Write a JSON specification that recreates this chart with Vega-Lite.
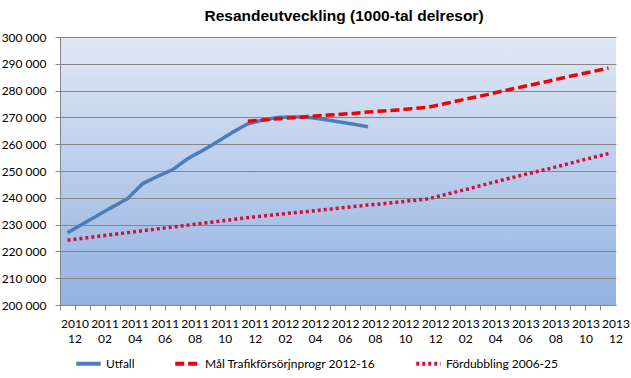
{
  "$schema": "https://vega.github.io/schema/vega-lite/v6.json",
  "width": 556,
  "height": 268,
  "autosize": "none",
  "padding": {"left": 60, "top": 37, "right": 15, "bottom": 73},
  "background": "white",
  "title": {
    "text": "Resandeutveckling (1000-tal delresor)",
    "font": "Liberation Sans",
    "fontSize": 15.5,
    "fontWeight": "bold",
    "color": "#000000",
    "anchor": "middle",
    "offset": 7,
    "dx": 6
  },
  "config": {
    "font": "Lato",
    "view": {
      "stroke": null,
      "fill": {
        "gradient": "linear",
        "x1": 0, "y1": 0, "x2": 0, "y2": 1,
        "stops": [
          {"offset": 0, "color": "#E0E8F5"},
          {"offset": 1, "color": "#93B2E1"}
        ]
      }
    }
  },
  "data": {
    "values": [
      {"m": "2010-12", "s": "Utfall", "v": 227000},
      {"m": "2011-01", "s": "Utfall", "v": 230200},
      {"m": "2011-02", "s": "Utfall", "v": 233400},
      {"m": "2011-03", "s": "Utfall", "v": 236600},
      {"m": "2011-04", "s": "Utfall", "v": 239700},
      {"m": "2011-05", "s": "Utfall", "v": 245300},
      {"m": "2011-06", "s": "Utfall", "v": 248000},
      {"m": "2011-07", "s": "Utfall", "v": 250500},
      {"m": "2011-08", "s": "Utfall", "v": 254600},
      {"m": "2011-09", "s": "Utfall", "v": 257700},
      {"m": "2011-10", "s": "Utfall", "v": 261000},
      {"m": "2011-11", "s": "Utfall", "v": 264500},
      {"m": "2011-12", "s": "Utfall", "v": 267600},
      {"m": "2012-01", "s": "Utfall", "v": 269000},
      {"m": "2012-02", "s": "Utfall", "v": 270000},
      {"m": "2012-03", "s": "Utfall", "v": 270200},
      {"m": "2012-04", "s": "Utfall", "v": 270000},
      {"m": "2012-05", "s": "Utfall", "v": 269300},
      {"m": "2012-06", "s": "Utfall", "v": 268400},
      {"m": "2012-07", "s": "Utfall", "v": 267500},
      {"m": "2012-08", "s": "Utfall", "v": 266500},
      {"m": "2011-12", "s": "Mål Trafikförsörjnprogr 2012-16", "v": 268600},
      {"m": "2012-01", "s": "Mål Trafikförsörjnprogr 2012-16", "v": 269000},
      {"m": "2012-02", "s": "Mål Trafikförsörjnprogr 2012-16", "v": 269500},
      {"m": "2012-03", "s": "Mål Trafikförsörjnprogr 2012-16", "v": 269900},
      {"m": "2012-04", "s": "Mål Trafikförsörjnprogr 2012-16", "v": 270300},
      {"m": "2012-05", "s": "Mål Trafikförsörjnprogr 2012-16", "v": 270700},
      {"m": "2012-06", "s": "Mål Trafikförsörjnprogr 2012-16", "v": 271100},
      {"m": "2012-07", "s": "Mål Trafikförsörjnprogr 2012-16", "v": 271500},
      {"m": "2012-08", "s": "Mål Trafikförsörjnprogr 2012-16", "v": 272000},
      {"m": "2012-09", "s": "Mål Trafikförsörjnprogr 2012-16", "v": 272400},
      {"m": "2012-10", "s": "Mål Trafikförsörjnprogr 2012-16", "v": 272800},
      {"m": "2012-11", "s": "Mål Trafikförsörjnprogr 2012-16", "v": 273300},
      {"m": "2012-12", "s": "Mål Trafikförsörjnprogr 2012-16", "v": 273800},
      {"m": "2013-01", "s": "Mål Trafikförsörjnprogr 2012-16", "v": 275000},
      {"m": "2013-02", "s": "Mål Trafikförsörjnprogr 2012-16", "v": 276200},
      {"m": "2013-03", "s": "Mål Trafikförsörjnprogr 2012-16", "v": 277400},
      {"m": "2013-04", "s": "Mål Trafikförsörjnprogr 2012-16", "v": 278600},
      {"m": "2013-05", "s": "Mål Trafikförsörjnprogr 2012-16", "v": 279900},
      {"m": "2013-06", "s": "Mål Trafikförsörjnprogr 2012-16", "v": 281100},
      {"m": "2013-07", "s": "Mål Trafikförsörjnprogr 2012-16", "v": 282300},
      {"m": "2013-08", "s": "Mål Trafikförsörjnprogr 2012-16", "v": 283500},
      {"m": "2013-09", "s": "Mål Trafikförsörjnprogr 2012-16", "v": 284800},
      {"m": "2013-10", "s": "Mål Trafikförsörjnprogr 2012-16", "v": 286000},
      {"m": "2013-11", "s": "Mål Trafikförsörjnprogr 2012-16", "v": 287200},
      {"m": "2013-12", "s": "Mål Trafikförsörjnprogr 2012-16", "v": 288400},
      {"m": "2010-12", "s": "Fördubbling 2006-25", "v": 224200},
      {"m": "2011-01", "s": "Fördubbling 2006-25", "v": 224900},
      {"m": "2011-02", "s": "Fördubbling 2006-25", "v": 225600},
      {"m": "2011-03", "s": "Fördubbling 2006-25", "v": 226300},
      {"m": "2011-04", "s": "Fördubbling 2006-25", "v": 227000},
      {"m": "2011-05", "s": "Fördubbling 2006-25", "v": 227700},
      {"m": "2011-06", "s": "Fördubbling 2006-25", "v": 228400},
      {"m": "2011-07", "s": "Fördubbling 2006-25", "v": 229100},
      {"m": "2011-08", "s": "Fördubbling 2006-25", "v": 229800},
      {"m": "2011-09", "s": "Fördubbling 2006-25", "v": 230500},
      {"m": "2011-10", "s": "Fördubbling 2006-25", "v": 231200},
      {"m": "2011-11", "s": "Fördubbling 2006-25", "v": 231900},
      {"m": "2011-12", "s": "Fördubbling 2006-25", "v": 232600},
      {"m": "2012-01", "s": "Fördubbling 2006-25", "v": 233200},
      {"m": "2012-02", "s": "Fördubbling 2006-25", "v": 233800},
      {"m": "2012-03", "s": "Fördubbling 2006-25", "v": 234400},
      {"m": "2012-04", "s": "Fördubbling 2006-25", "v": 234900},
      {"m": "2012-05", "s": "Fördubbling 2006-25", "v": 235500},
      {"m": "2012-06", "s": "Fördubbling 2006-25", "v": 236100},
      {"m": "2012-07", "s": "Fördubbling 2006-25", "v": 236700},
      {"m": "2012-08", "s": "Fördubbling 2006-25", "v": 237300},
      {"m": "2012-09", "s": "Fördubbling 2006-25", "v": 237800},
      {"m": "2012-10", "s": "Fördubbling 2006-25", "v": 238400},
      {"m": "2012-11", "s": "Fördubbling 2006-25", "v": 239000},
      {"m": "2012-12", "s": "Fördubbling 2006-25", "v": 239600},
      {"m": "2013-01", "s": "Fördubbling 2006-25", "v": 241000},
      {"m": "2013-02", "s": "Fördubbling 2006-25", "v": 242400},
      {"m": "2013-03", "s": "Fördubbling 2006-25", "v": 243800},
      {"m": "2013-04", "s": "Fördubbling 2006-25", "v": 245300},
      {"m": "2013-05", "s": "Fördubbling 2006-25", "v": 246700},
      {"m": "2013-06", "s": "Fördubbling 2006-25", "v": 248100},
      {"m": "2013-07", "s": "Fördubbling 2006-25", "v": 249500},
      {"m": "2013-08", "s": "Fördubbling 2006-25", "v": 250800},
      {"m": "2013-09", "s": "Fördubbling 2006-25", "v": 252200},
      {"m": "2013-10", "s": "Fördubbling 2006-25", "v": 253700},
      {"m": "2013-11", "s": "Fördubbling 2006-25", "v": 255100},
      {"m": "2013-12", "s": "Fördubbling 2006-25", "v": 256500}
    ]
  },
  "mark": {"type": "line", "strokeWidth": 3.5, "strokeCap": "butt"},
  "encoding": {
    "x": {
      "field": "m",
      "type": "ordinal",
      "bandPosition": 0.5,
      "scale": {
        "type": "band",
        "paddingInner": 0,
        "paddingOuter": 0,
        "domain": ["2010-12","2011-01","2011-02","2011-03","2011-04","2011-05","2011-06","2011-07","2011-08","2011-09","2011-10","2011-11","2011-12","2012-01","2012-02","2012-03","2012-04","2012-05","2012-06","2012-07","2012-08","2012-09","2012-10","2012-11","2012-12","2013-01","2013-02","2013-03","2013-04","2013-05","2013-06","2013-07","2013-08","2013-09","2013-10","2013-11","2013-12"]
      },
      "axis": {
        "title": null,
        "bandPosition": 0,
        "labelOffset": 7.5,
        "labelExpr": "toNumber(substring(datum.value,5,7)) % 2 == 0 ? split(datum.value,'-') : ''",
        "labelAngle": 0,
        "labelFont": "Lato",
        "labelFontSize": 12,
        "labelColor": "#000000",
        "labelLineHeight": 15,
        "labelPadding": 8,
        "labelOverlap": false,
        "labelBound": false,
        "tickSize": 5,
        "tickColor": "#868686",
        "domainColor": "#868686",
        "grid": false
      }
    },
    "y": {
      "field": "v",
      "type": "quantitative",
      "scale": {"domain": [200000, 300000], "nice": false, "zero": false},
      "axis": {
        "title": null,
        "values": [200000,210000,220000,230000,240000,250000,260000,270000,280000,290000,300000],
        "labelExpr": "replace(format(datum.value, ','), ',', ' ')",
        "labelFont": "Lato",
        "labelFontSize": 12,
        "labelColor": "#000000",
        "labelPadding": 9,
        "tickSize": 5,
        "tickColor": "#868686",
        "domainColor": "#868686",
        "gridColor": "#868686",
        "gridWidth": 1
      }
    },
    "color": {
      "field": "s",
      "type": "nominal",
      "scale": {
        "domain": ["Utfall", "Mål Trafikförsörjnprogr 2012-16", "Fördubbling 2006-25"],
        "range": ["#4A7EBB", "#F00000", "#D0103A"]
      },
      "legend": {
        "title": null,
        "orient": "none",
        "legendX": 14,
        "legendY": 312,
        "direction": "horizontal",
        "symbolType": "stroke",
        "symbolSize": 600,
        "symbolStrokeWidth": 4,
        "labelFont": "Lato",
        "labelFontSize": 12,
        "labelColor": "#000000",
        "labelLimit": 400,
        "labelOffset": 3,
        "columnPadding": 32
      }
    },
    "strokeDash": {
      "field": "s",
      "type": "nominal",
      "scale": {
        "domain": ["Utfall", "Mål Trafikförsörjnprogr 2012-16", "Fördubbling 2006-25"],
        "range": [[1, 0], [9, 4], [3, 3]]
      },
      "legend": {
        "title": null,
        "orient": "none",
        "legendX": 14,
        "legendY": 312,
        "direction": "horizontal",
        "symbolType": "stroke",
        "symbolSize": 600,
        "symbolStrokeWidth": 4,
        "labelFont": "Lato",
        "labelFontSize": 12,
        "labelColor": "#000000",
        "labelLimit": 400,
        "labelOffset": 3,
        "columnPadding": 32
      }
    }
  }
}
